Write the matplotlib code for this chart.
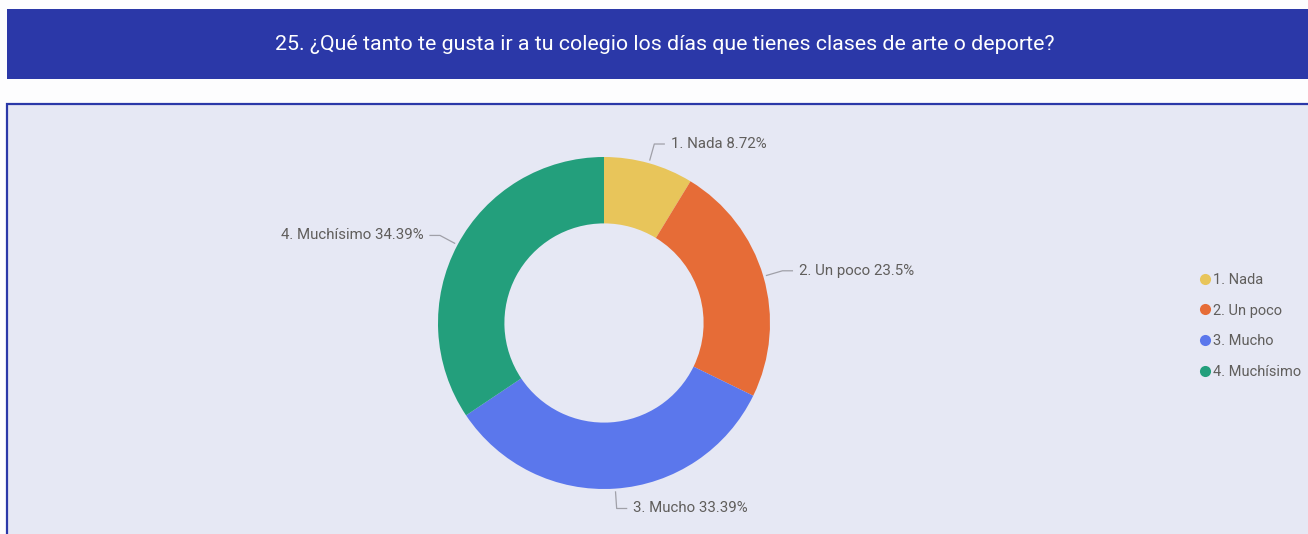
import numpy as np
import matplotlib.pyplot as plt
from matplotlib.patches import Rectangle
from matplotlib.lines import Line2D

plt.rcParams['font.family'] = ['Roboto', 'DejaVu Sans']

categories = ["1. Nada", "2. Un poco", "3. Mucho", "4. Muchísimo"]
shares = [8.72, 23.5, 33.39, 34.39]
colors = ["#E8C55A", "#E66C37", "#5B77EC", "#239F7C"]
title = "25. ¿Qué tanto te gusta ir a tu colegio los días que tienes clases de arte o deporte?"

W, H = 1308, 534
fig = plt.figure(figsize=(W / 100, H / 100), dpi=100)
fig.patch.set_facecolor("#FDFDFE")

def px(x, y, w, h):
    # pixel box (top-left origin) -> figure fraction
    return (x / W, 1 - (y + h) / H, w / W, h / H)

# title band
l, b, w, h = px(7, 9, 1320, 70)
fig.add_artist(Rectangle((l, b), w, h, transform=fig.transFigure,
                         facecolor="#2B38A8", edgecolor="none", zorder=-2))
fig.text(665 / W, 1 - 44 / H, title, color="white", fontsize=15.4,
         ha="center", va="center")

# panel
l, b, w, h = px(7, 104, 1330, 450)
fig.add_artist(Rectangle((l, b), w, h, transform=fig.transFigure,
                         facecolor="#E6E8F4", edgecolor="#2B38A8",
                         linewidth=1.6, zorder=-2))

# donut: center (604, 323), radius 166 px
cx, cy, R = 604, 323, 166
aw, ah = 600, 400
ax = fig.add_axes(px(cx - aw / 2, cy - ah / 2, aw, ah))
ax.set_axis_off()
ax.patch.set_visible(False)
wedges, _ = ax.pie(shares, colors=colors, startangle=90, counterclock=False,
                   radius=1, wedgeprops=dict(width=0.4, edgecolor="none"))
ax.set_xlim(-aw / 2 / R, aw / 2 / R)
ax.set_ylim(-ah / 2 / R, ah / 2 / R)
ax.set_aspect("equal")

lab_color = "#605E5C"
for wdg, cat, val in zip(wedges, categories, shares):
    ang = np.deg2rad((wdg.theta1 + wdg.theta2) / 2)
    x0, y0 = 1.02 * np.cos(ang), 1.02 * np.sin(ang)
    x1, y1 = 1.12 * np.cos(ang), 1.12 * np.sin(ang)
    side = 1 if np.cos(ang) >= 0 else -1
    x2 = x1 + side * 0.06
    ax.plot([x0, x1, x2], [y0, y1, y1], color="#A0A0A8", lw=0.9, clip_on=False)
    ax.text(x2 + side * 0.04, y1, f"{cat} {val:g}%", color=lab_color, fontsize=10.8,
            ha="left" if side > 0 else "right", va="center", clip_on=False)

handles = [Line2D([], [], marker="o", linestyle="none", markersize=8,
                  markerfacecolor=c, markeredgecolor="none") for c in colors]
fig.legend(handles, categories, loc="upper left",
           bbox_to_anchor=(1190 / W, 1 - 267 / H), frameon=False,
           fontsize=10.5, labelcolor=lab_color, handletextpad=0.0,
           handlelength=1.2, labelspacing=1.15, borderaxespad=0)

fig.savefig("out.png", dpi=100, facecolor=fig.get_facecolor())
